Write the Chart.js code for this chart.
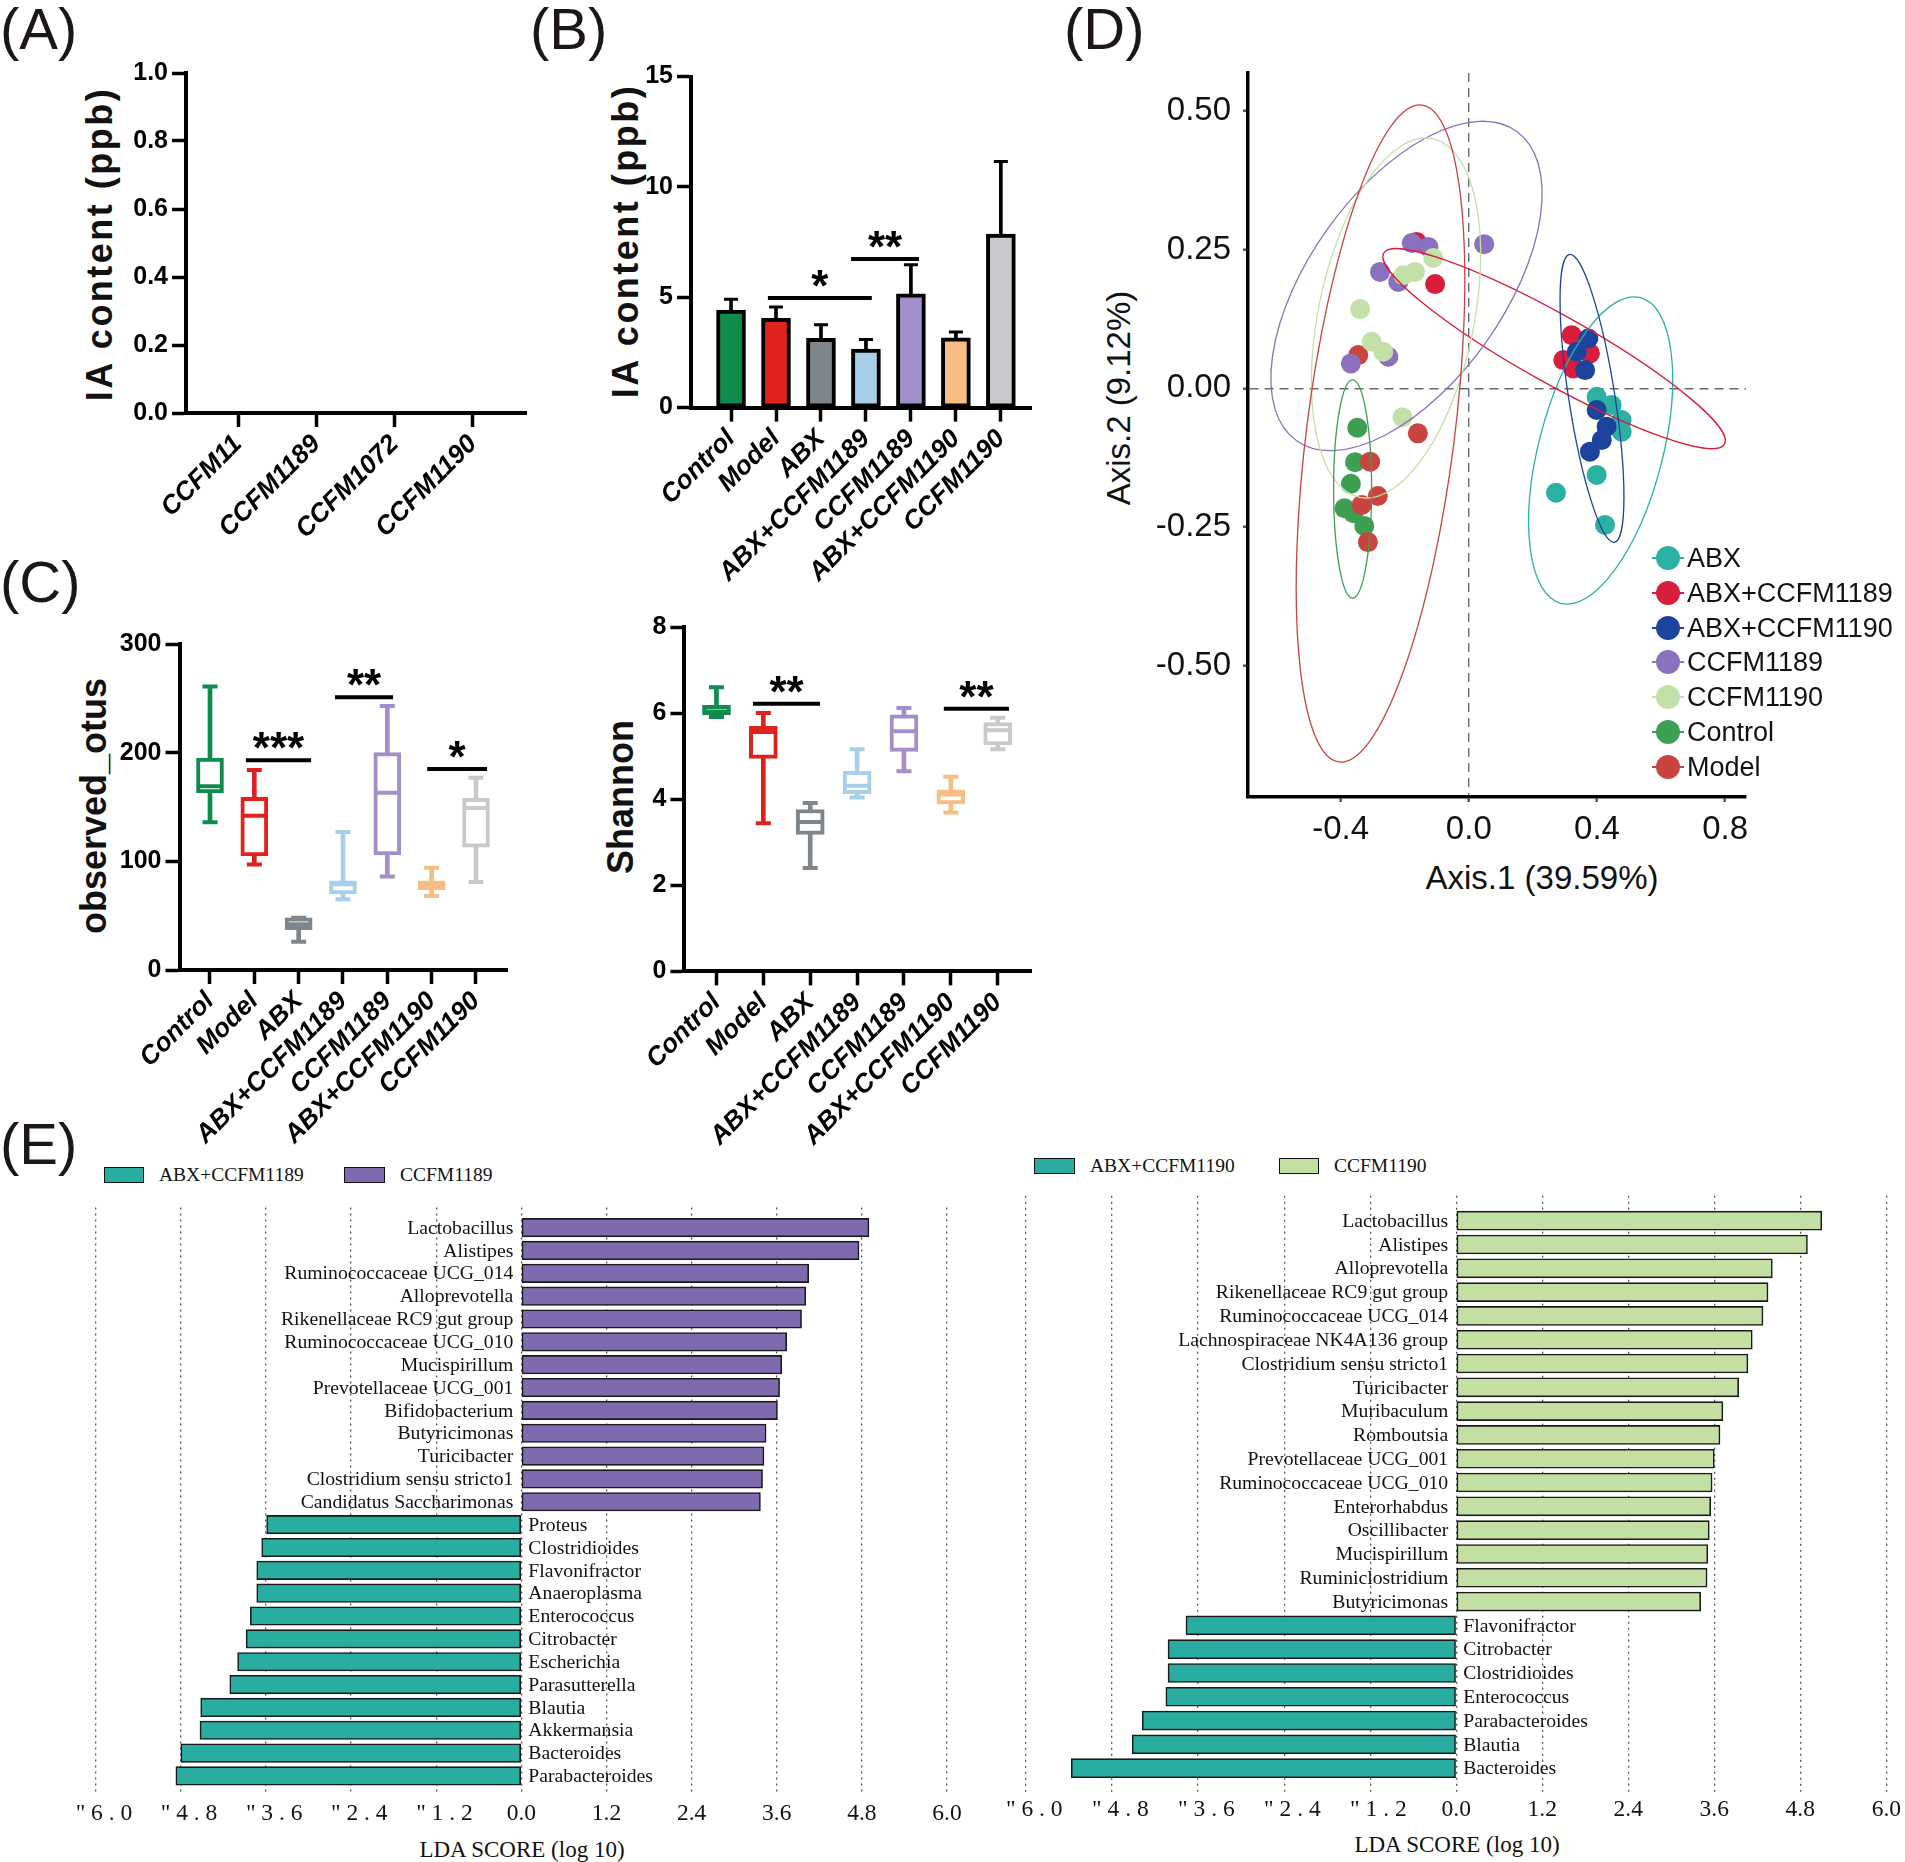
<!DOCTYPE html>
<html>
<head>
<meta charset="utf-8">
<script src="https://cdn.jsdelivr.net/npm/chart.js@4.4.1/dist/chart.umd.min.js"></script>
<style>
  body { margin: 0; background: #fff; }
  #fig { position: relative; width: 1905px; height: 1862px; overflow: hidden; font-family: 'Liberation Sans', Arial, sans-serif; color: #111; }
  canvas { position: absolute; }
  .letter { position: absolute; font-size: 58px; line-height: 1; color: #1c1714; }
  .c { position: absolute; white-space: nowrap; line-height: 1; transform: translate(-50%, -50%); }
  .rot { transform: translate(-50%, -50%) rotate(-90deg); }
  .bold { font-weight: bold; font-size: 36px; }
  .serif { font-family: 'Liberation Serif', 'Times New Roman', serif; }
  .lgbox { position: absolute; border: 1.5px solid #111; box-sizing: border-box; }
  .lgtxt { position: absolute; font-family: 'Liberation Serif', serif; font-size: 19.5px; line-height: 1; transform: translateY(-50%); white-space: nowrap; }
</style>
</head>
<body>
<div id="fig">
  <div class="letter" style="left:0px;top:0px">(A)</div>
  <div class="letter" style="left:530px;top:0px">(B)</div>
  <div class="letter" style="left:0px;top:553px">(C)</div>
  <div class="letter" style="left:1064px;top:0px">(D)</div>
  <div class="letter" style="left:0px;top:1115px">(E)</div>

  <div class="c rot bold" style="left:100px;top:244px;letter-spacing:2.5px">IA content (ppb)</div>
  <div class="c rot bold" style="left:626px;top:241px;letter-spacing:2.5px">IA content (ppb)</div>
  <div class="c rot bold" style="left:94px;top:806px">observed_otus</div>
  <div class="c rot bold" style="left:621px;top:797px">Shannon</div>
  <div class="c rot" style="left:1118px;top:398px;font-size:33px">Axis.2 (9.12%)</div>
  <div class="c" style="left:1542px;top:877px;font-size:33px">Axis.1 (39.59%)</div>
  <div class="c serif" style="left:522px;top:1849px;font-size:23px">LDA SCORE (log 10)</div>
  <div class="c serif" style="left:1457px;top:1844px;font-size:23px">LDA SCORE (log 10)</div>

  <div class="lgbox" style="left:104px;top:1167px;width:40px;height:16px;background:#2aada1"></div>
  <div class="lgtxt" style="left:159px;top:1175px">ABX+CCFM1189</div>
  <div class="lgbox" style="left:344px;top:1167px;width:41px;height:16px;background:#806aaf"></div>
  <div class="lgtxt" style="left:400px;top:1175px">CCFM1189</div>
  <div class="lgbox" style="left:1034px;top:1158px;width:41px;height:16px;background:#2aada1"></div>
  <div class="lgtxt" style="left:1090px;top:1166px">ABX+CCFM1190</div>
  <div class="lgbox" style="left:1279px;top:1158px;width:40px;height:16px;background:#c3dfa3"></div>
  <div class="lgtxt" style="left:1334px;top:1166px">CCFM1190</div>

  <canvas id="cA" width="520" height="520" style="left:40px;top:40px"></canvas>
  <canvas id="cB" width="500" height="560" style="left:560px;top:40px"></canvas>
  <canvas id="cC1" width="500" height="560" style="left:40px;top:600px"></canvas>
  <canvas id="cC2" width="500" height="570" style="left:560px;top:590px"></canvas>
  <canvas id="cD" width="700" height="860" style="left:1100px;top:40px"></canvas>
  <canvas id="cE1" width="960" height="672" style="left:20px;top:1190px"></canvas>
  <canvas id="cE2" width="945" height="682" style="left:960px;top:1180px"></canvas>
  <div id="legD"></div>
</div>

<script>
// ---------- dados ----------
const groups = ['Control', 'Model', 'ABX', 'ABX+CCFM1189', 'CCFM1189', 'ABX+CCFM1190', 'CCFM1190'];
const groupColors = ['#0f8b4d', '#e0221f', '#7e868b', '#a8cfe9', '#a28ec8', '#f7bd85', '#c7c9cc'];

// (A)
const strainsA = ['CCFM11', 'CCFM1189', 'CCFM1072', 'CCFM1190'];
const ticksA = [0, 0.2, 0.4, 0.6, 0.8, 1.0];

// (B)
const iaMean = [4.42, 4.04, 3.14, 2.65, 5.15, 3.16, 7.86];
const iaSd = [0.49, 0.52, 0.61, 0.44, 1.32, 0.26, 3.29];
const ticksB = [0, 5, 10, 15];
const sigFromB = [0.82, 2.67];
const sigToB = [3.13, 4.18];
const sigYB = [4.97, 6.73];
const sigTextB = ['*', '**'];

// (C) observed_otus
const otusMin = [136, 97, 26, 65, 86, 68, 81];
const otusQ1 = [163, 105, 37, 70, 106, 74, 113];
const otusMed = [169, 142, 42, 79, 163, 78, 149];
const otusQ3 = [195, 159, 48, 82, 200, 82, 158];
const otusMax = [261, 184, 48, 127, 243, 94, 177];
const ticksOtus = [0, 100, 200, 300];
const sigFromOtus = [0.81, 2.82, 4.9];
const sigToOtus = [2.28, 4.13, 6.25];
const sigYOtus = [193, 251, 185];
const sigTextOtus = ['***', '**', '*'];

// (C) Shannon
const shMin = [5.91, 3.44, 2.40, 4.04, 4.65, 3.69, 5.16];
const shQ1 = [5.96, 4.95, 3.18, 4.13, 5.11, 3.89, 5.26];
const shMed = [6.04, 5.56, 3.47, 4.31, 5.58, 4.11, 5.60];
const shQ3 = [6.18, 5.69, 3.76, 4.65, 5.96, 4.22, 5.78];
const shMax = [6.60, 6.00, 3.91, 5.16, 6.12, 4.52, 5.89];
const ticksSh = [0, 2, 4, 6, 8];
const sigFromSh = [0.78, 4.85];
const sigToSh = [2.21, 6.24];
const sigYSh = [6.22, 6.10];
const sigTextSh = ['**', '**'];

// (D) PCoA
const pcoaGroups = ['ABX', 'ABX+CCFM1189', 'ABX+CCFM1190', 'CCFM1189', 'CCFM1190', 'Control', 'Model'];
const pcoaColors = ['#2bb0a4', '#d91d3c', '#1c449d', '#8a70bd', '#c3e0a8', '#3c9f52', '#c9433f'];
const pcoaLayer = [4, 3, 0, 2, 1, 6, 5];
const pcoaX = [
  [0.399, 0.446, 0.477, 0.477, 0.399, 0.272, 0.425],
  [0.321, 0.295, 0.378, 0.326, -0.163, -0.105],
  [0.373, 0.337, 0.363, 0.399, 0.430, 0.415, 0.378],
  [-0.178, -0.126, 0.048, -0.277, -0.220, -0.251, -0.368],
  [-0.111, -0.168, -0.204, -0.339, -0.303, -0.267, -0.207],
  [-0.348, -0.355, -0.368, -0.388, -0.360, -0.326],
  [-0.345, -0.159, -0.308, -0.284, -0.334, -0.315]
];
const pcoaY = [
  [-0.015, -0.030, -0.057, -0.078, -0.156, -0.188, -0.246],
  [0.096, 0.051, 0.063, 0.036, 0.264, 0.188],
  [0.090, 0.066, 0.033, -0.039, -0.069, -0.093, -0.114],
  [0.262, 0.255, 0.260, 0.210, 0.192, 0.057, 0.045],
  [0.235, 0.210, 0.204, 0.143, 0.084, 0.066, -0.052],
  [-0.071, -0.133, -0.172, -0.216, -0.225, -0.248],
  [0.060, -0.081, -0.132, -0.194, -0.210, -0.277]
];
// elipses: centro e semi-eixos (unidades dos dados)
const ellCenterX = [0.4115, 0.2662, 0.3844, -0.1944, -0.2271, -0.3626, -0.2755];
const ellCenterY = [-0.1119, 0.0716, -0.018, 0.1846, 0.1269, -0.1813, -0.0813];
const ellMajorX = [0.1242, 0.5317, -0.0699, 0.343, 0.1139, 0, 0.1295];
const ellMajorY = [0.2754, -0.172, 0.2594, 0.279, 0.3232, 0.1965, 0.592];
const ellMinorX = [0.1872, -0.0520, 0.0711, 0.248, 0.2384, 0.0593, 0.229];
const ellMinorY = [-0.0281, -0.0536, 0.0064, -0.1015, -0.0281, 0, -0.0168];
const ticksDx = [-0.4, 0, 0.4, 0.8];
const ticksDy = [-0.5, -0.25, 0, 0.25, 0.5];

// (E) LEfSe
const eTickValues = [-6, -4.8, -3.6, -2.4, -1.2, 0, 1.2, 2.4, 3.6, 4.8, 6];
const eTickLabels = ['\u2002\u2009" 6 . 0', '\u2002\u2009" 4 . 8', '\u2002\u2009" 3 . 6', '\u2002\u2009" 2 . 4', '\u2002\u2009" 1 . 2',
  '0.0', '1.2', '2.4', '3.6', '4.8', '6.0'];
const generaE1 = ['Lactobacillus', 'Alistipes', 'Ruminococcaceae UCG_014', 'Alloprevotella', 'Rikenellaceae RC9 gut group',
  'Ruminococcaceae UCG_010', 'Mucispirillum', 'Prevotellaceae UCG_001', 'Bifidobacterium', 'Butyricimonas', 'Turicibacter',
  'Clostridium sensu stricto1', 'Candidatus Saccharimonas', 'Proteus', 'Clostridioides', 'Flavonifractor', 'Anaeroplasma',
  'Enterococcus', 'Citrobacter', 'Escherichia', 'Parasutterella', 'Blautia', 'Akkermansia', 'Bacteroides', 'Parabacteroides'];
const ldaE1 = [4.90, 4.76, 4.05, 4.01, 3.95, 3.74, 3.67, 3.64, 3.61, 3.45, 3.42, 3.40, 3.37,
  -3.59, -3.66, -3.73, -3.73, -3.82, -3.88, -4.00, -4.11, -4.52, -4.53, -4.80, -4.87];
const generaE2 = ['Lactobacillus', 'Alistipes', 'Alloprevotella', 'Rikenellaceae RC9 gut group', 'Ruminococcaceae UCG_014',
  'Lachnospiraceae NK4A136 group', 'Clostridium sensu stricto1', 'Turicibacter', 'Muribaculum', 'Romboutsia',
  'Prevotellaceae UCG_001', 'Ruminococcaceae UCG_010', 'Enterorhabdus', 'Oscillibacter', 'Mucispirillum', 'Ruminiclostridium',
  'Butyricimonas', 'Flavonifractor', 'Citrobacter', 'Clostridioides', 'Enterococcus', 'Parabacteroides', 'Blautia', 'Bacteroides'];
const ldaE2 = [5.10, 4.90, 4.41, 4.35, 4.28, 4.13, 4.07, 3.94, 3.72, 3.68, 3.60, 3.57, 3.55, 3.53, 3.51, 3.50, 3.41,
  -3.77, -4.02, -4.02, -4.05, -4.38, -4.52, -5.37];

// ---------- estilos comuns ----------
const SANS = 'Liberation Sans';
const SERIF = 'Liberation Serif';
Chart.defaults.font.family = SANS;
Chart.defaults.color = '#000';

function eixoX(labels, min, max, altura) {
  return {
    type: 'linear', min: min, max: max, offset: false,
    afterBuildTicks: s => { s.ticks = labels.map((l, i) => ({ value: i })); },
    afterFit: s => { s.height = altura; },
    ticks: {
      callback: v => labels[v], autoSkip: false, minRotation: 45, maxRotation: 45, padding: 2,
      color: '#000', font: { family: SANS, size: 26, weight: 'bold', style: 'italic' }
    },
    grid: { offset: false, drawOnChartArea: false, drawTicks: true, tickLength: 14, tickWidth: 3.5, tickColor: '#000', color: '#000' },
    border: { display: true, color: '#000', width: 4 }
  };
}

function eixoY(ticks, max, largura, casas) {
  return {
    type: 'linear', min: 0, max: max,
    afterBuildTicks: s => { s.ticks = ticks.map(v => ({ value: v })); },
    afterFit: s => { s.width = largura; },
    ticks: { callback: v => v.toFixed(casas), padding: 4, color: '#000', font: { family: SANS, size: 25, weight: 'bold' } },
    grid: { offset: false, drawOnChartArea: false, drawTicks: true, tickLength: 14, tickWidth: 3.5, tickColor: '#000', color: '#000' },
    border: { display: true, color: '#000', width: 4 }
  };
}

// asteriscos de significancia
function pluginEstrelas(from, to, ys, texts) {
  return {
    id: 'estrelas',
    afterDatasetsDraw(chart) {
      const { ctx, scales: { x, y } } = chart;
      ctx.save();
      ctx.font = 'bold 44px "' + SANS + '"';
      ctx.textAlign = 'center';
      ctx.textBaseline = 'alphabetic';
      ctx.fillStyle = '#000';
      texts.forEach((t, i) => {
        ctx.fillText(t, x.getPixelForValue((from[i] + to[i]) / 2), y.getPixelForValue(ys[i]) + 3);
      });
      ctx.restore();
    }
  };
}

function linhasSig(from, to, ys) {
  return from.map((f, i) => ({
    type: 'line', data: [{ x: f, y: ys[i] }, { x: to[i], y: ys[i] }],
    borderColor: '#000', borderWidth: 4, pointRadius: 0, clip: false
  }));
}

function opcoesBase(pad) {
  return {
    responsive: false, animation: false, events: [],
    layout: { padding: pad, autoPadding: false },
    plugins: { legend: { display: false }, tooltip: { enabled: false } }
  };
}

// ---------- (A) ----------
new Chart(document.getElementById('cA'), {
  type: 'bar',
  data: { datasets: [{ data: [] }] },
  options: Object.assign(opcoesBase({ left: 0, top: 33, right: 34, bottom: 0 }), {
    scales: { x: eixoX(strainsA, -0.664, 3.677, 147), y: eixoY(ticksA, 1, 146, 1) }
  })
});

// ---------- (B) ----------
new Chart(document.getElementById('cB'), {
  type: 'bar',
  data: {
    datasets: [
      ...linhasSig(sigFromB, sigToB, sigYB),
      {
        type: 'line', data: groups.map((g, i) => ({ x: i, y: iaMean[i] + iaSd[i] })), showLine: false,
        pointStyle: 'line', pointRadius: 7, pointBorderWidth: 3, pointBorderColor: '#000'
      },
      {
        data: groups.map((g, i) => ({ x: i, y: iaMean[i] })), backgroundColor: groupColors,
        borderColor: '#000', borderWidth: 4, borderSkipped: false, barThickness: 29, grouped: false
      },
      {
        data: groups.map((g, i) => ({ x: i, y: [iaMean[i], iaMean[i] + iaSd[i]] })), backgroundColor: '#000',
        borderWidth: 0, barThickness: 3, grouped: false
      }
    ]
  },
  options: Object.assign(opcoesBase({ left: 0, top: 36.5, right: 29, bottom: 0 }), {
    scales: { x: eixoX(groups, -0.89, 6.67, 192.4), y: eixoY(ticksB, 15, 131, 0) }
  }),
  plugins: [pluginEstrelas(sigFromB, sigToB, sigYB, sigTextB)]
});

// ---------- (C) box plots ----------
function boxPlot(id, pad, xmin, xmax, xh, yticks, ymax, yw, mins, q1s, meds, q3s, maxs, sFrom, sTo, sY, sText, boxW) {
  const pts = vals => groups.map((g, i) => ({ x: i, y: vals[i] }));
  new Chart(document.getElementById(id), {
    type: 'bar',
    data: {
      datasets: [
        ...linhasSig(sFrom, sTo, sY),
        { type: 'line', data: pts(meds), showLine: false, pointStyle: 'line', pointRadius: boxW / 2 - 1, pointBorderWidth: 4, pointBorderColor: groupColors },
        { type: 'line', data: pts(maxs), showLine: false, pointStyle: 'line', pointRadius: 7.5, pointBorderWidth: 4, pointBorderColor: groupColors },
        { type: 'line', data: pts(mins), showLine: false, pointStyle: 'line', pointRadius: 7.5, pointBorderWidth: 4, pointBorderColor: groupColors },
        {
          data: groups.map((g, i) => ({ x: i, y: [q1s[i], q3s[i]] })), backgroundColor: '#fff', borderColor: groupColors,
          borderWidth: 4, borderSkipped: false, barThickness: boxW, grouped: false
        },
        {
          data: groups.map((g, i) => ({ x: i, y: [mins[i], maxs[i]] })), backgroundColor: groupColors,
          borderWidth: 0, barThickness: 4, grouped: false
        }
      ]
    },
    options: Object.assign(opcoesBase(pad), {
      scales: { x: eixoX(groups, xmin, xmax, xh), y: eixoY(yticks, ymax, yw, 0) }
    }),
    plugins: [pluginEstrelas(sFrom, sTo, sY, sText)]
  });
}

boxPlot('cC1', { left: 0, top: 44, right: 33, bottom: 0 }, -0.688, 6.70, 190, ticksOtus, 300, 139.5,
  otusMin, otusQ1, otusMed, otusQ3, otusMax, sigFromOtus, sigToOtus, sigYOtus, sigTextOtus, 27);
boxPlot('cC2', { left: 0, top: 37, right: 29, bottom: 0 }, -0.684, 6.71, 188.6, ticksSh, 8, 124.4,
  shMin, shQ1, shMed, shQ3, shMax, sigFromSh, sigToSh, sigYSh, sigTextSh, 28);

// ---------- (D) PCoA ----------
const pluginElipses = {
  id: 'elipses',
  afterDatasetsDraw(chart) {
    const { ctx, scales: { x, y } } = chart;
    const sx = x.getPixelForValue(1) - x.getPixelForValue(0);
    const sy = y.getPixelForValue(1) - y.getPixelForValue(0);
    pcoaGroups.forEach((g, i) => {
      ctx.save();
      ctx.transform(ellMajorX[i] * sx, ellMajorY[i] * sy, ellMinorX[i] * sx, ellMinorY[i] * sy,
        x.getPixelForValue(ellCenterX[i]), y.getPixelForValue(ellCenterY[i]));
      ctx.beginPath();
      ctx.arc(0, 0, 1, 0, Math.PI * 2);
      ctx.restore();
      ctx.save();
      ctx.strokeStyle = pcoaColors[i];
      ctx.lineWidth = 1.3;
      ctx.stroke();
      ctx.restore();
    });
  }
};

function gridZero(cor) {
  return {
    drawOnChartArea: true, drawTicks: true, tickLength: 5, tickWidth: 2.5, tickColor: '#555', tickBorderDash: [],
    lineWidth: 1.4, borderDash: [9, 6],
    color: c => (c.tick && Math.abs(c.tick.value) < 1e-9) ? cor : 'rgba(0,0,0,0)'
  };
}

new Chart(document.getElementById('cD'), {
  type: 'scatter',
  data: {
    datasets: pcoaGroups.map((g, i) => ({
      label: g, order: pcoaLayer[i],
      data: pcoaX[i].map((v, j) => ({ x: v, y: pcoaY[i][j] })),
      backgroundColor: pcoaColors[i], borderWidth: 0, pointRadius: 10
    }))
  },
  options: Object.assign(opcoesBase({ left: 0, top: 33, right: 54, bottom: 0 }), {
    scales: {
      x: {
        type: 'linear', min: -0.689, max: 0.865,
        afterBuildTicks: s => { s.ticks = ticksDx.map(v => ({ value: v })); },
        afterFit: s => { s.height = 103; },
        ticks: { callback: v => v.toFixed(1), padding: 8, color: '#111', font: { family: SANS, size: 33 } },
        grid: gridZero('#6a6a6a'),
        border: { display: true, color: '#000', width: 3.5, dash: [9, 6] }
      },
      y: {
        type: 'linear', min: -0.7365, max: 0.5685,
        afterBuildTicks: s => { s.ticks = ticksDy.map(v => ({ value: v })); },
        afterFit: s => { s.width = 148; },
        ticks: { callback: v => v.toFixed(2), padding: 12, color: '#111', font: { family: SANS, size: 33 } },
        grid: gridZero('#6a6a6a'),
        border: { display: true, color: '#000', width: 3.5, dash: [9, 6] }
      }
    }
  }),
  plugins: [pluginElipses]
});

// legenda (D)
const legD = document.getElementById('legD');
pcoaGroups.forEach((g, i) => {
  const cy = 558 + i * 34.8;
  const linha = document.createElement('div');
  linha.style.cssText = 'position:absolute;left:1652px;top:' + (cy - 1) + 'px;width:32px;height:2px;background:' + pcoaColors[i];
  const bola = document.createElement('div');
  bola.style.cssText = 'position:absolute;left:1656px;top:' + (cy - 12) + 'px;width:24px;height:24px;border-radius:50%;background:' + pcoaColors[i];
  const txt = document.createElement('div');
  txt.textContent = g;
  txt.style.cssText = 'position:absolute;left:1687px;top:' + cy + 'px;transform:translateY(-50%);font-size:27px;line-height:1;white-space:nowrap;color:#111';
  legD.appendChild(linha); legD.appendChild(bola); legD.appendChild(txt);
});

// ---------- (E) LEfSe ----------
function pluginNomes(nomes, valores) {
  return {
    id: 'nomes',
    afterDatasetsDraw(chart) {
      const { ctx, scales: { x, y } } = chart;
      const x0 = x.getPixelForValue(0);
      ctx.save();
      ctx.font = '19.7px "' + SERIF + '"';
      ctx.fillStyle = '#111';
      ctx.textBaseline = 'middle';
      nomes.forEach((n, i) => {
        const py = y.getPixelForValue(i) + 1;
        if (valores[i] > 0) { ctx.textAlign = 'right'; ctx.fillText(n, x0 - 8, py); }
        else { ctx.textAlign = 'left'; ctx.fillText(n, x0 + 7, py); }
      });
      ctx.restore();
    }
  };
}

function lefse(id, nomes, valores, corPos, pad, ymin, ymax, xh, espessura, tickPad) {
  new Chart(document.getElementById(id), {
    type: 'bar',
    data: {
      datasets: [{
        data: valores.map((v, i) => ({ x: v, y: i })),
        backgroundColor: valores.map(v => v > 0 ? corPos : '#2aada1'),
        borderColor: '#1a1a1a', borderWidth: 1.6, borderSkipped: false, barThickness: espessura
      }]
    },
    options: Object.assign(opcoesBase(pad), {
      indexAxis: 'y',
      scales: {
        x: {
          type: 'linear', min: -6, max: 6,
          afterBuildTicks: s => { s.ticks = eTickValues.map(v => ({ value: v })); },
          afterFit: s => { s.height = xh; },
          ticks: {
            callback: (v, i) => eTickLabels[i], padding: tickPad, color: '#111',
            autoSkip: false, minRotation: 0, maxRotation: 0,
            font: { family: SERIF, size: 23.5 }
          },
          grid: { drawTicks: false, color: '#555', lineWidth: 1.3, borderDash: [2, 4] },
          border: { display: false, dash: [2, 4] }
        },
        y: { type: 'linear', reverse: true, min: ymin, max: ymax, display: false, offset: false }
      }
    }),
    plugins: [pluginNomes(nomes, valores)]
  });
}

lefse('cE1', generaE1, ldaE1, '#806aaf', { left: 75.7, top: 17.5, right: 33, bottom: 0 }, -0.88, 24.79, 68, 18.5, 6);
lefse('cE2', generaE2, ldaE2, '#c3dfa3', { left: 66.1, top: 15.7, right: 16.4, bottom: 0 }, -1.05, 24.0, 70, 19, 4);
</script>
</body>
</html>
